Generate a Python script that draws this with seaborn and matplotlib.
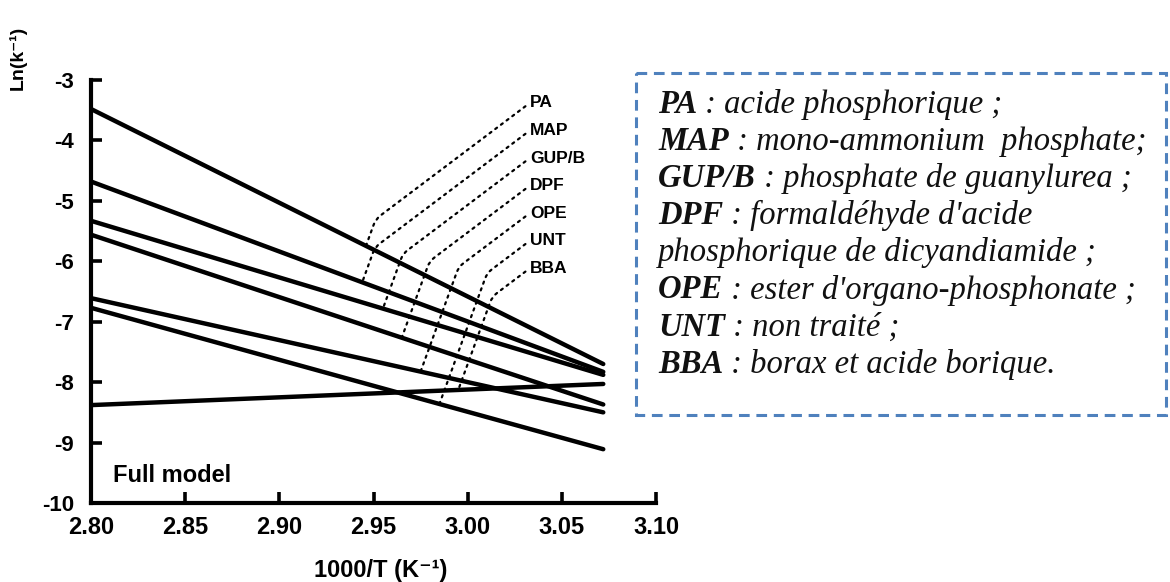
import numpy as np
import pandas as pd
import matplotlib
matplotlib.use("Agg")
import matplotlib.pyplot as plt
from matplotlib.patches import Rectangle
import seaborn as sns

# ---------------- data ----------------
series = ["PA", "MAP", "GUP/B", "DPF", "OPE", "UNT", "BBA"]
x_values = [2.80, 3.072]                       # 1000/T range of each fitted line
y_start = [-3.48, -4.68, -5.33, -5.56, -6.61, -6.77, -8.38]
y_end = [-7.70, -7.83, -7.88, -8.37, -8.50, -9.11, -8.03]
leader_x = [2.946, 2.944, 2.955, 2.965, 2.975, 2.985, 2.995]   # where each label's leader touches its line

x_ticks = [2.80, 2.85, 2.90, 2.95, 3.00, 3.05, 3.10]
x_tick_labels = ["2.80", "2.85", "2.90", "2.95", "3.00", "3.05", "3.10"]
y_ticks = [-3, -4, -5, -6, -7, -8, -9, -10]
y_tick_labels = ["-3", "-4", "-5", "-6", "-7", "-8", "-9", "-10"]

legend_abbr = ["PA", "MAP", "GUP/B", "DPF", "", "OPE", "UNT", "BBA"]
legend_text = [" : acide phosphorique ;",
               " : mono-ammonium  phosphate;",
               " : phosphate de guanylurea ;",
               " : formaldéhyde d'acide",
               "phosphorique de dicyandiamide ;",
               " : ester d'organo-phosphonate ;",
               " : non traité ;",
               " : borax et acide borique."]

rows = []
for s, y0, y1 in zip(series, y_start, y_end):
    rows.append({"series": s, "x": x_values[0], "y": y0})
    rows.append({"series": s, "x": x_values[1], "y": y1})
df = pd.DataFrame(rows)

# ---------------- style ----------------
sns.set_theme(style="white")
plt.rcParams["font.family"] = ["Liberation Sans", "DejaVu Sans"]
plt.rcParams["text.color"] = "black"
plt.rcParams["axes.labelcolor"] = "black"
plt.rcParams["xtick.color"] = "black"
plt.rcParams["ytick.color"] = "black"

W, H = 1170, 582
fig = plt.figure(figsize=(W / 100, H / 100), dpi=100)
fig.patch.set_facecolor("white")

L, R, B, T = 91, 656, 503, 80
ax = fig.add_axes([L / W, 1 - B / H, (R - L) / W, (B - T) / H])
ax.set_facecolor("white")

sns.lineplot(data=df, x="x", y="y", hue="series", palette=["black"] * len(series),
             legend=False, lw=3.2, ax=ax, estimator=None, sort=False)

ax.set_xlim(2.80, 3.10)
ax.set_ylim(-10, -3)
for sp in ["top", "right"]:
    ax.spines[sp].set_visible(False)
for sp in ["left", "bottom"]:
    ax.spines[sp].set_color("black")
    ax.spines[sp].set_linewidth(3)

ax.set_xticks(x_ticks)
ax.set_xticklabels(x_tick_labels, fontsize=17, fontweight="bold")
ax.set_yticks(y_ticks)
ax.set_yticklabels(y_tick_labels, fontsize=16, fontweight="bold")
ax.tick_params(bottom=True, left=True, direction="in", length=8, width=2.6,
               color="black", labelcolor="black")
ax.tick_params(axis="x", pad=9)
ax.tick_params(axis="y", pad=12)

ax.set_xlabel("1000/T (K⁻¹)", fontsize=17, fontweight="bold", va="center")
ax.xaxis.set_label_coords((381 - L) / (R - L), -(570 - B) / (B - T))
ax.set_ylabel("Ln(k⁻¹)", fontsize=14, fontweight="bold", va="center", ha="center")
ax.yaxis.set_label_coords((18 - L) / (R - L), (B - 58) / (B - T))

ax.text(2.8115, -9.55, "Full model", fontsize=17, fontweight="bold", va="center", ha="left")

# labels with dotted leaders
label_x = 3.033
label_top = -3.38
label_step = 0.456
for i, (s, y0, y1, lx) in enumerate(zip(series, y_start, y_end, leader_x)):
    ly = y0 + (y1 - y0) * (lx - x_values[0]) / (x_values[1] - x_values[0])
    ty = label_top - i * label_step
    ax.annotate(s, xy=(lx, ly), xytext=(label_x, ty), textcoords="data",
                ha="left", va="center", fontsize=12.5, fontweight="bold",
                annotation_clip=False,
                arrowprops=dict(arrowstyle="-", linestyle=(0, (1, 2.2)), lw=1.6,
                                color="black", shrinkA=1, shrinkB=0, relpos=(0, 0.5),
                                connectionstyle="angle,angleA=37,angleB=70,rad=6"))

# ---------------- legend box (overlay in pixel coords) ----------------
ov = fig.add_axes([0, 0, 1, 1])
ov.set_xlim(0, W)
ov.set_ylim(H, 0)
ov.axis("off")
ov.patch.set_alpha(0)

ov.add_patch(Rectangle((636, 73), 1166 - 636, 415 - 73, fill=False,
                       edgecolor="#4f81bd", lw=2.2, linestyle=(0, (3.5, 2.2))))

fig.canvas.draw()
renderer = fig.canvas.get_renderer()
x0 = 658
for i, (ab, txt) in enumerate(zip(legend_abbr, legend_text)):
    yb = 113 + 37.1 * i
    w = 0
    if ab:
        t1 = ov.text(x0, yb, ab, fontsize=23.5, family="Liberation Serif", style="italic",
                     weight="bold", va="baseline", ha="left", color="#111111")
        w = t1.get_window_extent(renderer).width
    ov.text(x0 + w, yb, txt, fontsize=23.5, family="Liberation Serif", style="italic",
            va="baseline", ha="left", color="#111111")

fig.savefig("out.png", dpi=100, facecolor="white")
